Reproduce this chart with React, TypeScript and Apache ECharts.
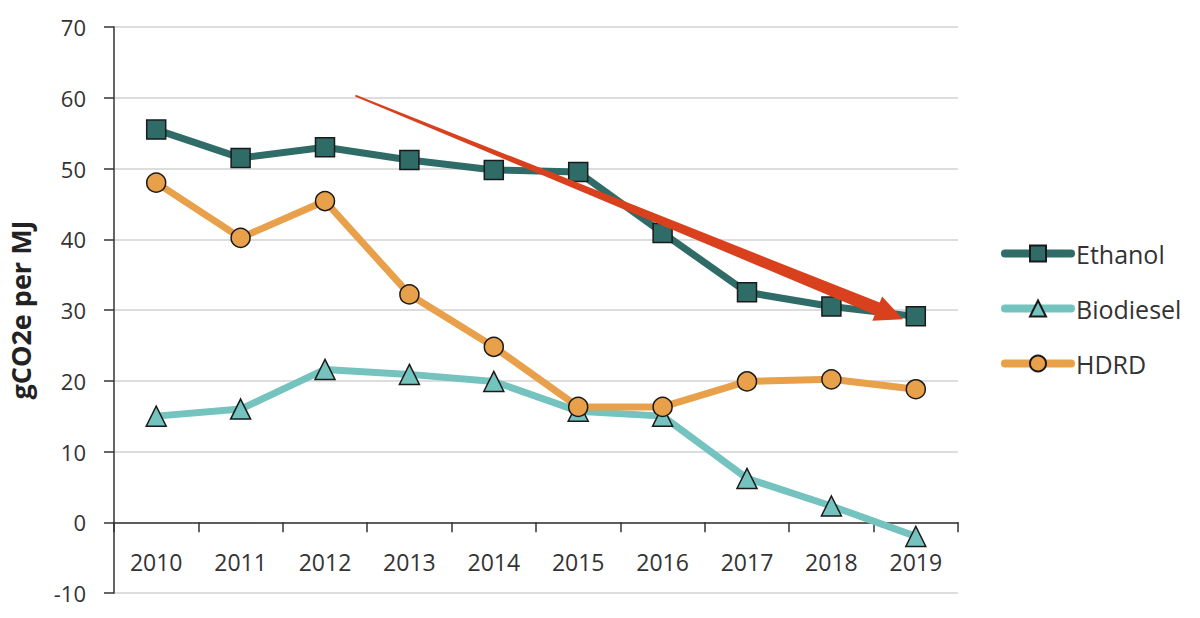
import React, { useEffect, useRef } from "react";
import * as echarts from "echarts";

const years = ["2010", "2011", "2012", "2013", "2014", "2015", "2016", "2017", "2018", "2019"];
const ethanol = [55.5, 51.5, 53.0, 51.2, 49.8, 49.5, 40.9, 32.5, 30.5, 29.1];
const biodiesel = [15.0, 16.0, 21.6, 20.9, 19.9, 15.7, 15.0, 6.2, 2.3, -2.0];
const hdrd = [48.0, 40.2, 45.4, 32.2, 24.8, 16.3, 16.3, 19.9, 20.2, 18.8];
// trend arrow annotation, in [category index, value] space: start then end
const arrowStart = [2.36, 60.3];
const arrowEnd = [8.85, 28.7];

const FONT = "'Open Sans', 'Noto Sans', sans-serif";

export default function App() {
  const ref = useRef<HTMLDivElement>(null);
  useEffect(() => {
    const chart = echarts.init(ref.current!, null, { renderer: "svg" });
    const lineSeries = (name: string, data: number[], color: string, symbol: string, size: number) => ({
      name,
      type: "line",
      data,
      symbol,
      symbolSize: size,
      showSymbol: true,
      lineStyle: { color, width: 7 },
      itemStyle: { color, borderColor: "#1a1a1a", borderWidth: 1.5 },
      z: 3,
    });
    chart.setOption({
      animation: false,
      backgroundColor: "#ffffff",
      grid: { left: 114, top: 27, right: 242, bottom: 25, containLabel: false, outerBoundsMode: "none" },
      legend: {
        orient: "vertical",
        left: 996,
        top: 236,
        itemWidth: 66,
        itemHeight: 20,
        itemGap: 30,
        lineStyle: { width: 8, cap: "round" },
        textStyle: { fontFamily: FONT, fontSize: 25, color: "#333" },
        data: ["Ethanol", "Biodiesel", "HDRD"],
      },
      xAxis: [
        {
          type: "category",
          data: years,
          boundaryGap: true,
          axisLine: { onZero: true, lineStyle: { color: "#333", width: 1.5 } },
          axisTick: { show: true, length: 10, lineStyle: { color: "#333", width: 1.5 } },
          axisLabel: { fontFamily: FONT, fontSize: 23, color: "#333", margin: -43 },
          splitLine: { show: false },
        },
        {
          type: "value",
          min: -0.5,
          max: 9.5,
          show: false,
        },
      ],
      yAxis: {
        type: "value",
        min: -10,
        max: 70,
        interval: 10,
        name: "gCO2e per MJ",
        nameLocation: "middle",
        nameGap: 80,
        nameTextStyle: { fontFamily: FONT, fontSize: 27, fontWeight: "bold", color: "#222" },
        axisLine: { show: true, onZero: false, lineStyle: { color: "#333", width: 1.5 } },
        axisTick: { show: true, length: 10, lineStyle: { color: "#333", width: 1.5 } },
        axisLabel: { fontFamily: FONT, fontSize: 22, color: "#333", margin: 28 },
        splitLine: { show: true, lineStyle: { color: "#d2d2d2", width: 1.5 } },
      },
      series: [
        lineSeries("Ethanol", ethanol, "#2f6b67", "rect", 19),
        lineSeries("Biodiesel", biodiesel, "#74c3be", "triangle", 20),
        lineSeries("HDRD", hdrd, "#e9a04a", "circle", 19),
        {
          type: "custom",
          xAxisIndex: 1,
          yAxisIndex: 0,
          z: 10,
          silent: true,
          data: [[arrowStart[0], arrowStart[1], arrowEnd[0], arrowEnd[1]]],
          renderItem: (params: any, api: any) => {
            const p0 = api.coord([api.value(0), api.value(1)]);
            const p1 = api.coord([api.value(2), api.value(3)]);
            const dx = p1[0] - p0[0];
            const dy = p1[1] - p0[1];
            const len = Math.sqrt(dx * dx + dy * dy);
            const ux = dx / len;
            const uy = dy / len;
            const nx = -uy;
            const ny = ux;
            const headLen = 28;
            const bx = p1[0] - ux * headLen;
            const by = p1[1] - uy * headLen;
            const w0 = 1;
            const w1 = 6.5;
            const wh = 13;
            const pts = [
              [p0[0] + nx * w0, p0[1] + ny * w0],
              [bx + nx * w1, by + ny * w1],
              [bx + nx * wh, by + ny * wh],
              [p1[0], p1[1]],
              [bx - nx * wh, by - ny * wh],
              [bx - nx * w1, by - ny * w1],
              [p0[0] - nx * w0, p0[1] - ny * w0],
            ];
            return {
              type: "polygon",
              shape: { points: pts },
              style: { fill: "#d9411e", stroke: "none" },
            };
          },
        },
      ],
    });
    return () => chart.dispose();
  }, []);
  return <div ref={ref} style={{ position: "absolute", left: 0, top: 0, width: 1200, height: 618 }} />;
}
